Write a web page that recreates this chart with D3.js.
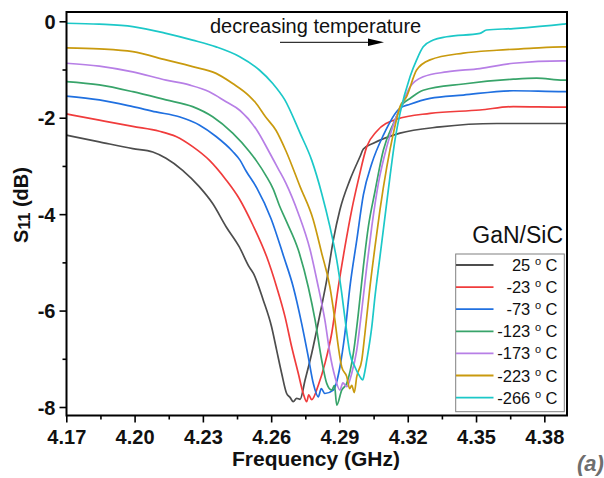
<!DOCTYPE html>
<html><head><meta charset="utf-8">
<script src="https://cdn.jsdelivr.net/npm/d3@7"></script>
<style>
body{margin:0;background:#fff;}
svg{display:block;font-family:Arial,"Liberation Sans",sans-serif;}
</style></head>
<body>
<svg id="chart" width="604" height="478"></svg>
<script>
// ---- data ----
const seriesLabels = ["25", "-23", "-73", "-123", "-173", "-223", "-266"];
const seriesColors = ["#4d4d4d", "#f03c3c", "#2070e0", "#38a46a", "#b77fe6", "#c99a0e", "#1cc8c8"];

const freq25 = [4.170,4.1845,4.1992,4.2080,4.2138,4.2211,4.2284,4.2343,4.2402,4.2460,4.2504,4.2522,4.2565,4.2602,4.2624,4.2646,4.2668,4.2683,4.2697,4.2712,4.2727,4.2749,4.2778,4.2815,4.2844,4.2873,4.2902,4.2946,4.2990,4.3005,4.3049,4.3166,4.3342,4.3591,4.3882,4.390];
const s25    = [-2.36,-2.50,-2.64,-2.71,-2.84,-3.09,-3.43,-3.78,-4.26,-4.68,-5.10,-5.23,-5.78,-6.34,-6.82,-7.30,-7.72,-7.80,-7.89,-7.82,-7.84,-7.44,-6.89,-6.06,-5.37,-4.54,-3.91,-3.29,-2.81,-2.65,-2.53,-2.32,-2.19,-2.12,-2.12,-2.12];

const freqM23 = [4.170,4.1845,4.1992,4.2109,4.2182,4.2255,4.2328,4.2402,4.2460,4.2519,4.2580,4.2624,4.2661,4.2690,4.2719,4.2741,4.2756,4.2765,4.2778,4.2807,4.2836,4.2866,4.2895,4.2924,4.2954,4.2983,4.3020,4.3064,4.3151,4.3298,4.3517,4.3664,4.3882,4.390];
const sM23    = [-1.92,-2.05,-2.18,-2.28,-2.39,-2.60,-2.88,-3.29,-3.68,-4.22,-4.88,-5.51,-6.13,-6.75,-7.30,-7.72,-7.89,-7.75,-7.85,-7.55,-7.10,-6.47,-5.51,-4.68,-3.91,-3.29,-2.60,-2.28,-2.03,-1.91,-1.84,-1.77,-1.78,-1.78];

const freqM73 = [4.170,4.1845,4.1992,4.2094,4.2196,4.2284,4.2358,4.2431,4.2463,4.2489,4.2536,4.2600,4.2655,4.2697,4.2734,4.2763,4.2785,4.2807,4.2820,4.2836,4.2873,4.2902,4.2924,4.2946,4.2976,4.3005,4.3042,4.3093,4.3166,4.3210,4.3298,4.3444,4.3664,4.3882,4.390];
const sM73    = [-1.55,-1.63,-1.77,-1.88,-1.98,-2.15,-2.39,-2.70,-2.88,-3.10,-3.45,-4.10,-4.88,-5.51,-6.27,-6.96,-7.51,-7.79,-7.62,-7.72,-7.65,-7.17,-6.47,-5.51,-4.54,-3.60,-2.95,-2.36,-1.80,-1.72,-1.60,-1.53,-1.44,-1.46,-1.46];

const freqM123 = [4.170,4.1845,4.1992,4.2138,4.2255,4.2343,4.2431,4.2504,4.2536,4.2577,4.2609,4.2636,4.2667,4.2719,4.2763,4.2793,4.2822,4.2844,4.2866,4.2878,4.2888,4.2910,4.2932,4.2961,4.2983,4.3005,4.3027,4.3056,4.3093,4.3137,4.3181,4.3210,4.3268,4.3444,4.3664,4.3766,4.3882,4.390];
const sM123    = [-1.25,-1.32,-1.46,-1.63,-1.77,-1.98,-2.32,-2.70,-2.90,-3.20,-3.48,-3.82,-4.15,-4.74,-5.51,-6.20,-7.03,-7.51,-7.65,-7.55,-7.96,-7.65,-7.51,-6.89,-6.06,-5.09,-4.26,-3.53,-2.67,-2.12,-1.70,-1.60,-1.43,-1.30,-1.20,-1.18,-1.22,-1.22];

const freqM173 = [4.170,4.1845,4.1992,4.2138,4.2240,4.2328,4.2402,4.2463,4.2536,4.2590,4.2630,4.2665,4.2719,4.2771,4.2807,4.2836,4.2858,4.2880,4.2902,4.2915,4.2932,4.2954,4.2976,4.2998,4.3020,4.3042,4.3071,4.3108,4.3144,4.3180,4.3210,4.3268,4.3371,4.3517,4.3664,4.3882,4.390];
const sM173    = [-0.87,-0.93,-1.05,-1.22,-1.32,-1.46,-1.67,-1.85,-2.25,-2.70,-3.05,-3.36,-3.98,-4.74,-5.51,-6.20,-6.89,-7.37,-7.65,-7.50,-7.58,-7.30,-6.82,-5.99,-5.09,-4.26,-3.36,-2.60,-2.05,-1.67,-1.36,-1.15,-1.05,-0.98,-0.87,-0.82,-0.82];

const freqM223 = [4.170,4.1845,4.1992,4.2138,4.2255,4.2358,4.2431,4.2504,4.2530,4.2575,4.2621,4.2665,4.2727,4.2785,4.2822,4.2858,4.2880,4.2895,4.2910,4.2932,4.2945,4.2954,4.2965,4.2976,4.2998,4.3012,4.3034,4.3056,4.3078,4.3108,4.3137,4.3166,4.3195,4.3239,4.3298,4.3444,4.3591,4.3737,4.3882,4.390];
const sM223    = [-0.55,-0.57,-0.63,-0.80,-0.94,-1.08,-1.29,-1.55,-1.68,-1.98,-2.26,-2.69,-3.43,-4.12,-4.81,-5.51,-6.20,-6.75,-7.17,-7.37,-7.62,-7.55,-7.70,-7.37,-7.03,-6.47,-5.51,-4.68,-3.91,-3.02,-2.32,-1.77,-1.56,-1.01,-0.80,-0.66,-0.60,-0.56,-0.53,-0.53];

const freqM266 = [4.170,4.1845,4.1992,4.2138,4.2255,4.2358,4.2460,4.2548,4.2607,4.2660,4.2727,4.2778,4.2822,4.2858,4.2888,4.2910,4.2929,4.2946,4.2968,4.2990,4.3002,4.3010,4.3020,4.3042,4.3056,4.3078,4.3100,4.3122,4.3144,4.3166,4.3210,4.3239,4.3268,4.3312,4.3371,4.3517,4.3546,4.3664,4.3882,4.390];
const sM266    = [-0.04,-0.06,-0.11,-0.25,-0.39,-0.53,-0.73,-1.01,-1.29,-1.63,-2.32,-2.88,-3.57,-4.26,-4.95,-5.64,-6.34,-6.89,-7.17,-7.37,-7.44,-7.30,-7.03,-6.34,-5.71,-4.88,-4.05,-3.22,-2.46,-1.91,-1.15,-0.80,-0.53,-0.39,-0.32,-0.25,-0.18,-0.15,-0.06,-0.05];

const xTickValues = [4.17, 4.20, 4.23, 4.26, 4.29, 4.32, 4.35, 4.38];
const xMinorTicks = [4.185, 4.215, 4.245, 4.275, 4.305, 4.335, 4.365];
const yTickValues = [0, -2, -4, -6, -8];
const yMinorTicks = [-1, -3, -5, -7];

const freqs = [freq25, freqM23, freqM73, freqM123, freqM173, freqM223, freqM266];
const vals  = [s25, sM23, sM73, sM123, sM173, sM223, sM266];

// ---- layout ----
const L = 66.5, R = 567, T = 12, B = 415.5;
const svg = d3.select("#chart");
const x = d3.scaleLinear().domain([4.17, 4.39]).range([66.3, 66.3 + 68.29 * (0.22 / 0.03)]);
const y = d3.scaleLinear().domain([0, -8]).range([21.3, 407]);

const line = d3.line().x(d => x(d[0])).y(d => y(d[1])).curve(d3.curveMonotoneX);

svg.append("clipPath").attr("id", "clip").append("rect")
  .attr("x", L).attr("y", T).attr("width", R - L).attr("height", B - T);

const g = svg.append("g").attr("clip-path", "url(#clip)");
seriesLabels.forEach((s, i) => {
  const data = freqs[i].map((f, j) => [f, vals[i][j]]);
  g.append("path").datum(data).attr("d", line)
    .attr("fill", "none").attr("stroke", seriesColors[i])
    .attr("stroke-width", 1.7).attr("stroke-linejoin", "round");
});

// axes
const xAxis = svg.append("g").attr("transform", `translate(0,${B})`)
  .call(d3.axisBottom(x).tickValues(xTickValues).tickFormat(d3.format(".2f")).tickSize(7).tickSizeOuter(0).tickPadding(6));
const xMinor = svg.append("g").attr("transform", `translate(0,${B})`)
  .call(d3.axisBottom(x).tickValues(xMinorTicks).tickFormat("").tickSize(4).tickSizeOuter(0));
const yAxis = svg.append("g").attr("transform", `translate(${L},0)`)
  .call(d3.axisLeft(y).tickValues(yTickValues).tickFormat(d => String(d)).tickSize(7).tickSizeOuter(0).tickPadding(4));
const yMinor = svg.append("g").attr("transform", `translate(${L},0)`)
  .call(d3.axisLeft(y).tickValues(yMinorTicks).tickFormat("").tickSize(4).tickSizeOuter(0));
[xAxis, xMinor, yAxis, yMinor].forEach(a => {
  a.select(".domain").remove();
  a.selectAll(".tick line").attr("stroke", "#000").attr("stroke-width", 1.6);
  a.selectAll(".tick text").attr("font-family", "Arial, 'Liberation Sans', sans-serif")
    .attr("font-size", 20).attr("font-weight", "bold").attr("fill", "#111");
});
xAxis.selectAll(".tick text").attr("dy", "0.78em");
yAxis.selectAll(".tick text").attr("dy", "0.36em");

// frame
svg.append("rect").attr("x", L).attr("y", T).attr("width", R - L).attr("height", B - T)
  .attr("fill", "none").attr("stroke", "#000").attr("stroke-width", 2);

// axis labels
svg.append("text").attr("x", 316).attr("y", 466).attr("text-anchor", "middle")
  .attr("font-size", 21).attr("font-weight", "bold").attr("fill", "#111").text("Frequency (GHz)");
const yl = svg.append("text").attr("transform", "translate(28,205) rotate(-90)")
  .attr("text-anchor", "middle").attr("font-size", 20).attr("font-weight", "bold").attr("fill", "#111");
yl.append("tspan").text("S");
yl.append("tspan").attr("font-size", 16).attr("dy", 2).text("11");
yl.append("tspan").attr("dy", -2).text(" (dB)");

// annotation
svg.append("text").attr("x", 210).attr("y", 33).attr("font-size", 20).attr("fill", "#111")
  .text("decreasing temperature");
svg.append("line").attr("x1", 280).attr("x2", 370).attr("y1", 42.3).attr("y2", 42.3)
  .attr("stroke", "#000").attr("stroke-width", 1);
svg.append("path").attr("d", "M368,38.5 L384,42.3 L368,46 Z").attr("fill", "#000");

// legend
svg.append("text").attr("x", 563).attr("y", 243).attr("text-anchor", "end")
  .attr("font-size", 23).attr("fill", "#111").text("GaN/SiC");
svg.append("rect").attr("x", 455.7).attr("y", 254).attr("width", 108.6).attr("height", 157.7)
  .attr("fill", "#fff").attr("stroke", "#808080").attr("stroke-width", 1);
seriesLabels.forEach((s, i) => {
  const cy = 265 + i * 22.1;
  svg.append("line").attr("x1", 456).attr("x2", 493.5).attr("y1", cy).attr("y2", cy)
    .attr("stroke", seriesColors[i]).attr("stroke-width", 1.8);
  const t = svg.append("text").attr("x", 557.5).attr("y", cy + 6).attr("text-anchor", "end")
    .attr("font-size", 16.5).attr("fill", "#111");
  t.append("tspan").text(s + " ");
  t.append("tspan").attr("font-size", 11).attr("dy", -6).text("o");
  t.append("tspan").attr("dy", 6).text(" C");
});

// panel tag
svg.append("text").attr("x", 577).attr("y", 471).attr("font-size", 22).attr("font-weight", "bold")
  .attr("font-style", "italic").attr("fill", "#6e6e6e").text("(a)");
</script>
</body></html>
